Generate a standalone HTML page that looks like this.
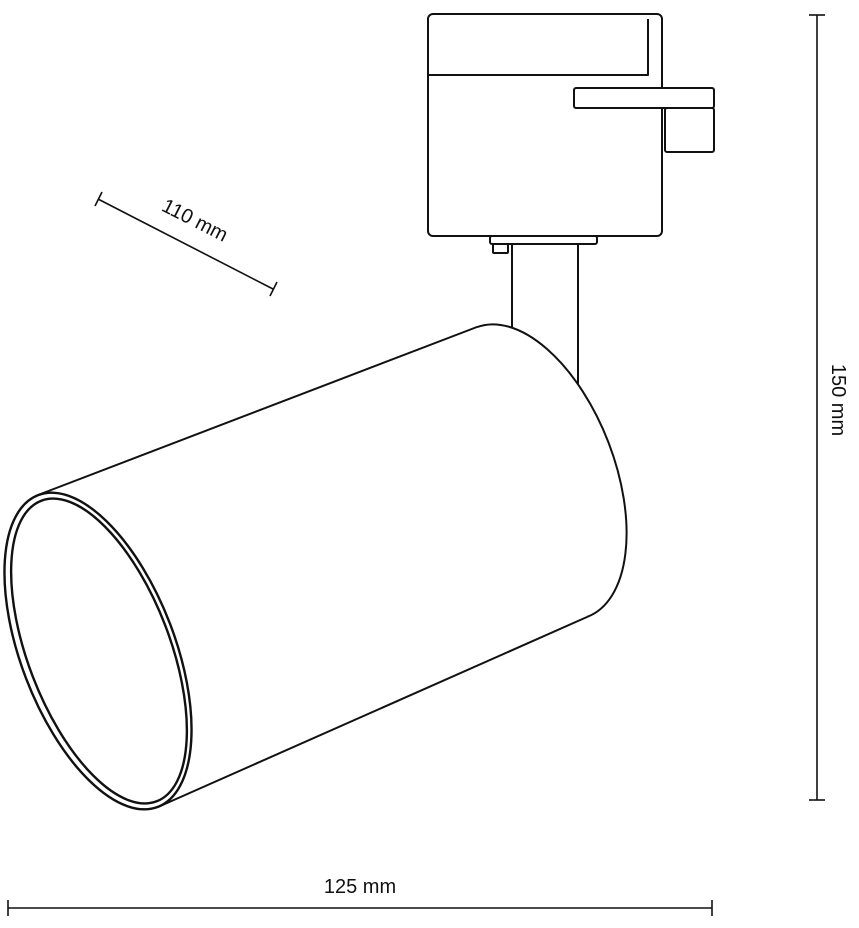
<!DOCTYPE html>
<html><head><style>html,body{margin:0;padding:0;background:#fff}svg{display:block}</style></head>
<body>
<svg width="859" height="928" viewBox="0 0 859 928" xmlns="http://www.w3.org/2000/svg" font-family="Liberation Sans, sans-serif">
<g fill="#fff" stroke="#111" stroke-width="2" stroke-linejoin="round">
  <!-- adapter -->
  <rect x="428" y="14" width="234" height="222" rx="5"/>
  <path d="M429 75 L648 75 L648 19" fill="none"/>
  <rect x="574" y="88" width="140" height="20" rx="2"/>
  <rect x="665" y="108" width="49" height="44" rx="2"/>
  <rect x="490" y="236" width="107" height="8" rx="2"/>
  <rect x="493" y="244" width="15" height="9" rx="1"/>
  <!-- stem -->
  <rect x="512" y="244" width="66" height="160"/>
  <!-- back ellipse -->
  <ellipse cx="532" cy="472" rx="155" ry="82" transform="rotate(69 532 472)"/>
  <!-- body -->
  <polygon points="38,495 477,327 587,617 158,807" stroke="none"/>
  <line x1="38" y1="495" x2="477" y2="327"/>
  <line x1="158" y1="807" x2="587" y2="617"/>
  <!-- front -->
  <ellipse cx="98" cy="651" rx="167" ry="77" transform="rotate(69 98 651)" stroke-width="2.4"/>
  <ellipse cx="99" cy="651" rx="161" ry="71" transform="rotate(69 99 651)" stroke-width="2.4"/>
</g>
<g stroke="#111" stroke-width="1.6" fill="none">
  <line x1="817" y1="15" x2="817" y2="800"/>
  <line x1="809" y1="15" x2="825" y2="15"/>
  <line x1="809" y1="800" x2="825" y2="800"/>
  <line x1="8" y1="908" x2="712" y2="908"/>
  <line x1="8" y1="900" x2="8" y2="916"/>
  <line x1="712" y1="900" x2="712" y2="916"/>
  <line x1="98" y1="199" x2="273" y2="289"/>
  <line x1="102" y1="192" x2="95" y2="206"/>
  <line x1="277" y1="282" x2="270" y2="296"/>
</g>
<g fill="#111" font-size="20">
  <text x="360" y="893" text-anchor="middle">125 mm</text>
  <text transform="translate(832 400) rotate(90)" text-anchor="middle">150 mm</text>
  <text transform="translate(192 226) rotate(27)" text-anchor="middle">110 mm</text>
</g>
</svg>
</body></html>
